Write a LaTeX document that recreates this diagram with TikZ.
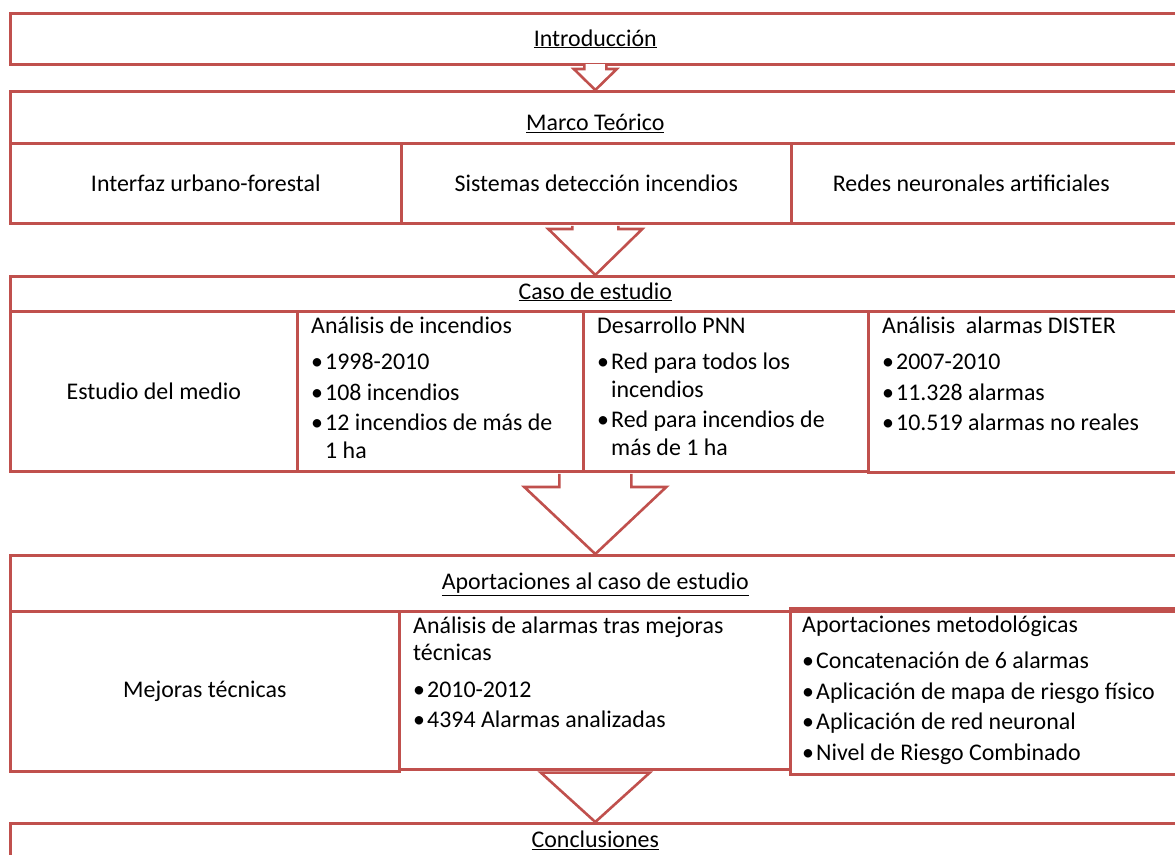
\documentclass[tikz,border=0pt]{standalone}
\usepackage{fontspec}
\setmainfont{Carlito}
\usepackage{tikz}
\usetikzlibrary{calc,positioning}
\definecolor{boxred}{RGB}{192,80,77}
\tikzstyle{frame} = [rectangle, draw=boxred, line width=2.6pt, anchor=north west,
    inner sep=0pt, align=center]
\tikzstyle{title} = [inner sep=0pt]
\tikzstyle{listtext} = [anchor=base west, inner sep=0pt, text width=380pt, align=flush left]
\tikzstyle{arrowline} = [draw=boxred, line width=2.6pt, fill=white, line join=miter]
\newcommand{\bitem}[1]{\par\vspace{3pt}\hangindent=14pt\hangafter=1\noindent
    \makebox[14pt][l]{\textbullet}#1\par}
\newcommand{\listhead}[1]{#1\par\vspace{6pt}}
% tail, tip, half shaft, half head, head length
\newcommand{\blockarrow}[5]{\path [arrowline] let \p1=(#1), \p2=(#2) in
    (\x2-#3pt,\y1) -- (\x2-#3pt,\y2+#5pt) -- (\x2-#4pt,\y2+#5pt) -- (\x2,\y2)
    -- (\x2+#4pt,\y2+#5pt) -- (\x2+#3pt,\y2+#5pt) -- (\x2+#3pt,\y1);}
\newcommand{\blockhead}[3]{\path [arrowline] let \p1=(#1), \p2=(#2) in
    (\x2-#3pt,\y1) -- (\x2,\y2) -- (\x2+#3pt,\y1) -- cycle;}

\begin{document}
\begin{tikzpicture}[x=1pt, y=-1pt, font={\fontsize{23.9pt}{27.5pt}\selectfont}]
  \useasboundingbox (0,0) rectangle (1175,854);

    % Place nodes
    \node [frame, minimum width=1170pt, minimum height=51pt] (intro) at (9,12) {};
    \node [title] (introTitle) at (intro.center) {\underline{Introducción}};

    \node [frame, minimum width=1170pt, minimum height=52pt] (marcoHead) at (9,90) {};
    \node [title] (marcoTitle) at ([shift={(0,6)}]marcoHead.center) {\underline{Marco Teórico}};
    \node [frame, minimum width=391pt, minimum height=80pt] (interfaz) at (9,142) {Interfaz urbano-forestal};
    \node [frame, minimum width=390pt, minimum height=80pt] (sistemas) at (400,142) {Sistemas detección incendios};
    \node [frame, minimum width=400pt, minimum height=80pt] (redes) at (790,142) {};
    \node [title] (redesText) at ([shift={(-20,0)}]redes.center) {Redes neuronales artificiales};

    \node [frame, minimum width=1170pt, minimum height=35pt] (casoHead) at (9,275) {};
    \node [title] (casoTitle) at ([shift={(0,-2)}]casoHead.center) {\underline{Caso de estudio}};
    \node [frame, minimum width=287pt, minimum height=160pt] (medio) at (9,310) {Estudio del medio};
    \node [frame, minimum width=286pt, minimum height=160pt] (incendios) at (296,310) {};
    \node [frame, minimum width=285pt, minimum height=160pt] (pnn) at (582,310) {};
    \node [frame, minimum width=323pt, minimum height=161pt] (dister) at (867,310) {};
    \node [listtext] (incendiosText) at ([shift={(15,23)}]incendios.north west)
      {\listhead{Análisis de incendios}\bitem{1998-2010}\bitem{108 incendios}%
       \bitem{12 incendios de más de\newline 1 ha}};
    \node [listtext] (pnnText) at ([shift={(15,23)}]pnn.north west)
      {\listhead{Desarrollo PNN}\bitem{Red para todos los\newline incendios}%
       \bitem{Red para incendios de\newline más de 1 ha}};
    \node [listtext] (disterText) at ([shift={(15,23)}]dister.north west)
      {\listhead{Análisis\ \ alarmas DISTER}\bitem{2007-2010}\bitem{11.328 alarmas}%
       \bitem{10.519 alarmas no reales}};

    \node [frame, minimum width=1170pt, minimum height=56pt] (aportHead) at (9,554) {};
    \node [title] (aportTitle) at ([shift={(0,1)}]aportHead.center) {\underline{Aportaciones al caso de estudio}};
    \node [frame, minimum width=389pt, minimum height=160pt] (mejoras) at (9,610) {Mejoras técnicas};
    \node [frame, minimum width=391pt, minimum height=158pt] (alarmas) at (398,610) {};
    \node [frame, minimum width=401pt, minimum height=166pt] (metodo) at (789,607) {};
    \node [listtext] (alarmasText) at ([shift={(15,23)}]alarmas.north west)
      {\listhead{Análisis de alarmas tras mejoras\newline técnicas}\bitem{2010-2012}%
       \bitem{4394 Alarmas analizadas}};
    \node [listtext] (metodoText) at ([shift={(13,25)}]metodo.north west)
      {\listhead{Aportaciones metodológicas}\bitem{Concatenación de 6 alarmas}%
       \bitem{Aplicación de mapa de riesgo físico}\bitem{Aplicación de red neuronal}%
       \bitem{Nivel de Riesgo Combinado}};

    \node [frame, minimum width=1170pt, minimum height=80pt] (concl) at (9,822) {};
    \node [title] (conclTitle) at ([shift={(0,18)}]concl.north) {\underline{Conclusiones}};

    % Draw edges
    \blockarrow{[shift={(0,-1.5)}]intro.south}{marcoHead.north}{11}{21.5}{21}
    \blockarrow{[shift={(0,1.3)}]sistemas.south}{casoHead.north}{23}{47}{46}
    \blockarrow{[shift={(0,1.3)}]pnn.south}{aportHead.north}{36}{71}{67}
    \blockhead{mejoras.south}{concl.north}{54.5}

\end{tikzpicture}
\end{document}
